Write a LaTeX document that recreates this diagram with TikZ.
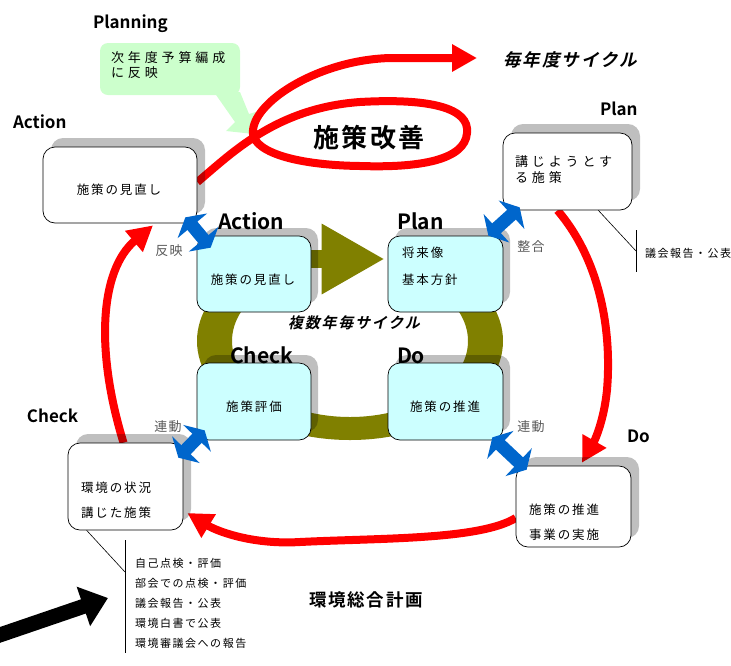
\documentclass[tikz,border=0pt]{standalone}
\usepackage{fontspec}
\setmainfont{Noto Sans CJK JP}
\newfontfamily\jpA{Noto Sans CJK JP}[LetterSpace=15]
\newfontfamily\jpW{Noto Sans CJK JP}[LetterSpace=30]
\newfontfamily\jpL{Noto Sans CJK JP}[LetterSpace=14]
\newfontfamily\jpG{Noto Sans CJK JP}[LetterSpace=8]
\newfontfamily\jpB{Noto Sans CJK JP Bold}[LetterSpace=10]
\newfontfamily\jpBI{Noto Sans CJK JP Bold}[LetterSpace=12,FakeSlant=0.22]
\newfontfamily\latb{Noto Sans CJK JP Bold}
\usetikzlibrary{arrows.meta,shadows,calc}
\definecolor{redC}{HTML}{FF0000}
\definecolor{oliveC}{HTML}{808000}
\definecolor{cyanC}{HTML}{CCFFFF}
\definecolor{greenC}{HTML}{CCFFCC}
\definecolor{blueC}{HTML}{0066CC}
\definecolor{grayT}{HTML}{595959}
\pgfdeclarelayer{bg}
\pgfsetlayers{bg,main}
\tikzset{
  obox/.style={draw=black, line width=0.7pt, rounded corners=12pt, inner sep=0pt, fill=white,
    drop shadow={shadow xshift=8pt, shadow yshift=9pt, fill=black, opacity=0.25}},
  ibox/.style={draw=black, line width=0.7pt, rounded corners=12pt, inner sep=0pt, fill=cyanC,
    drop shadow={shadow xshift=7pt, shadow yshift=8pt, fill=black, opacity=0.25}},
  lbl/.style={inner sep=0pt, outer sep=0pt},
  tA/.style={lbl, align=left, font=\jpA\fontsize{12.5}{25}\selectfont},
  tW/.style={lbl, align=left, font=\jpW\fontsize{13}{15.5}\selectfont},
  tL/.style={lbl, align=left, font=\jpL\fontsize{11}{20}\selectfont},
  tG/.style={lbl, text=grayT, font=\jpG\fontsize{13}{15}\selectfont},
  latin/.style={lbl, anchor=base west, font=\latb\fontsize{21}{21}\selectfont},
  latout/.style={lbl, anchor=base west, font=\latb\fontsize{17}{17}\selectfont},
  redA/.style={draw=redC, line width=8pt, -{Triangle[length=25pt,width=26pt]}},
  blueA/.style={draw=blueC, line width=13pt, {Triangle[length=11pt,width=38pt]}-{Triangle[length=11pt,width=38pt]}},
  lead/.style={draw=black, line width=0.6pt}
}
\begin{document}
\begin{tikzpicture}[x=1pt,y=-1pt]
\useasboundingbox (0,0) rectangle (731,665);

% boxes
\node[obox, minimum width=154, minimum height=76] (aOut) at (120,185) {};
\node[obox, minimum width=129, minimum height=77] (pOut) at (567.5,171.5) {};
\node[obox, minimum width=115, minimum height=87] (cOut) at (125.5,486.5) {};
\node[obox, minimum width=115, minimum height=81] (dOut) at (573.5,506.5) {};
\node[ibox, minimum width=114, minimum height=76] (aIn) at (254,274) {};
\node[ibox, minimum width=115, minimum height=76] (pIn) at (445.5,274) {};
\node[ibox, minimum width=114, minimum height=77] (cIn) at (254,401.5) {};
\node[ibox, minimum width=115, minimum height=77] (dIn) at (445.5,401.5) {};

% callout
\node[lbl, fill=greenC, rounded corners=8pt, minimum width=140, minimum height=52] (call) at (170,69) {};

% box texts
\node[tA] (aOutT) at (119,190) {施策の見直し};
\node[tA] (aInT) at (253,280) {施策の見直し};
\node[tA, anchor=west] (pInT1) at (402,253) {将来像};
\node[tA, anchor=west] (pInT2) at (402,280) {基本方針};
\node[tA] (cInT) at (254,407) {施策評価};
\node[tA] (dInT) at (445,407) {施策の推進};
\node[tW, anchor=west] (pOutT) at (515,169.5) {講じようとす\\る施策};
\node[tA, anchor=west] (cOutT) at (81,500.5) {環境の状況\\講じた施策};
\node[tA, anchor=west] (dOutT) at (529,522.5) {施策の推進\\事業の実施};
\node[tW, anchor=west] (callT) at (111,65) {次年度予算編成\\に反映};

% latin labels
\node[latin] (lAin) at (218,229) {Action};
\node[latin] (lPin) at (397,229) {Plan};
\node[latin] (lCin) at (230,363) {Check};
\node[latin] (lDin) at (397,363) {Do};
\node[latout] (lPlanning) at (93,28) {Planning};
\node[latout] (lAout) at (13,128) {Action};
\node[latout] (lPout) at (600,115) {Plan};
\node[latout] (lCout) at (27,422) {Check};
\node[latout] (lDout) at (627,442) {Do};

% titles
\node[lbl, font=\jpB\fontsize{26}{28}\selectfont] (kaizen) at (369,138) {施策改善};
\node[lbl, anchor=west, font=\jpBI\fontsize{17.5}{20}\selectfont] (nendo) at (503,60) {毎年度サイクル};
\node[lbl, anchor=west, font=\jpBI\fontsize{15}{18}\selectfont] (fukusu) at (288,323) {複数年毎サイクル};
\node[lbl, anchor=west, font=\jpB\fontsize{17.5}{20}\selectfont] (sogo) at (309,600) {環境総合計画};

% gray labels
\node[tG] (gA) at (169,251) {反映};
\node[tG] (gP) at (531,247) {整合};
\node[tG] (gC) at (168,427) {連動};
\node[tG] (gD) at (531,427) {連動};

% report lists
\node[tL, anchor=west] (pRep) at (645,253) {議会報告・公表};
\node[tL, anchor=west] (cRep) at (135,603) {自己点検・評価\\部会での点検・評価\\議会報告・公表\\環境白書で公表\\環境審議会への報告};

% coordinates
\coordinate (cycEnd) at (477,58);
\coordinate (plm) at (636,251);
\coordinate (pl1) at (636,230);
\coordinate (pl2) at (636,272);
\coordinate (clm) at (125,572);
\coordinate (cl1) at (125,540);
\coordinate (cl2) at (125,653);
\coordinate (bkS) at (-12,639);
\coordinate (bkE) at (108,598);

% leader lines
\draw[lead] ($(pOut.south east)+(-34,0)$) -- (plm);
\draw[lead] (pl1) -- (pl2);
\draw[lead] ($(cOut.south west)+(19,0)$) -- (clm);
\draw[lead] (cl1) -- (cl2);

% black arrow
\draw[draw=black, line width=15pt, -{Triangle[length=26pt,width=40pt]}] (bkS) -- (bkE);

% blue double arrows
\draw[blueA] ($(aOut.south east)+(-12,-6)$) -- ($(aIn.north west)+(14,12)$);
\draw[blueA] ($(pOut.south west)+(17,-3)$) -- ($(pIn.north east)+(-15,0)$);
\draw[blueA] ($(cIn.south west)+(8,-10)$) -- ($(cOut.north east)+(-5,15)$);
\draw[blueA] ($(dIn.south east)+(-11,-3)$) -- ($(dOut.north west)+(11,4)$);

\begin{pgfonlayer}{bg}
  % callout pointer
  \fill[greenC] ($(call.south east)+(-26,-3)$) -- ($(call.south east)+(0,-3)$) -- (249,114) -- (259,111) -- (254,134) -- (226,131) -- (235,122) -- cycle;
  % olive ring
  \begin{scope}
    \clip (0,272) rectangle (731,665);
    \fill[oliveC, even odd rule] (350,341) ellipse [x radius=153, y radius=99] (350,341) ellipse [x radius=118, y radius=76];
  \end{scope}
  \draw[oliveC, line width=18pt, -{Triangle[length=63pt,width=66pt]}] ([yshift=15pt]aIn.east) -- ([xshift=-3pt,yshift=15pt]pIn.west);
  % red cycle
  \draw[redA] ($(cOut.north)+(-2,0)$) .. controls (95,350) and (100,270) .. ($(aOut.south)+(33,2)$);
  \draw[redA] ($(aOut.east)+(0,-3)$) .. controls (230,155) and (275,108) .. (360,102)
     .. controls (430,98) and (470,108) .. (467,133)
     .. controls (465,160) and (420,168) .. (360,166)
     .. controls (290,165) and (250,150) .. (253,130)
     .. controls (256,100) and (320,60) .. (390,58) -- (cycEnd);
  \draw[redA] ($(pOut.south)+(-10,0)$) .. controls (600,260) and (612,330) .. (607,390)
     .. controls (604,420) and (595,440) .. ($(dOut.north)+(8.5,-3)$);
  \draw[redA] ($(dOut.west)+(0,11.5)$) .. controls (480,540) and (380,538) .. (300,542)
     .. controls (250,545) and (215,530) .. ($(cOut.east)+(4,26.5)$);
\end{pgfonlayer}
\end{tikzpicture}
\end{document}
